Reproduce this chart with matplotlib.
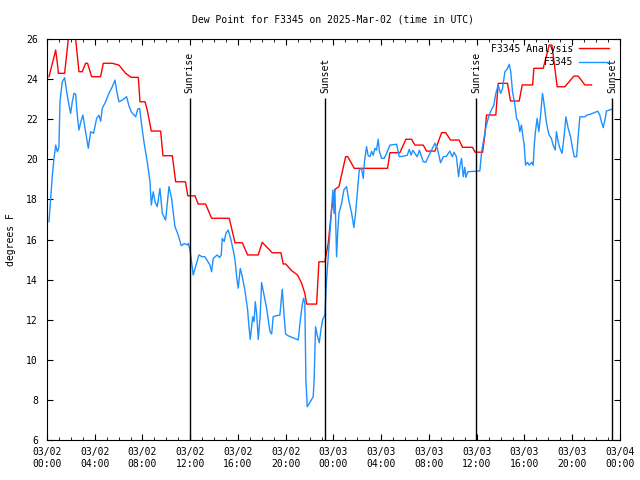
import matplotlib
matplotlib.use("Agg")
import matplotlib.pyplot as plt
import matplotlib.dates as mdates
import pandas as pd

# hours after 2025-03-02 00:00 UTC
base = pd.Timestamp("2025-03-02 00:00")

analysis_hours = [0.17, 0.73, 0.92, 0.95, 1.48, 1.95, 2.25, 2.68, 2.95, 3.24, 3.4, 3.74, 4.49, 4.72,
                  5.47, 6.03, 6.59, 7.06, 7.65, 7.79, 8.21, 8.4, 8.74, 9.52, 9.72, 10.5, 10.78, 11.6,
                  11.8, 12.4, 12.67, 13.29, 13.79, 15.27, 15.75, 16.36, 16.81, 17.7, 18.03, 18.87,
                  19.6, 19.79, 20.0, 20.49, 20.99, 21.33, 21.6, 21.75, 22.59, 22.78, 23.28, 23.56,
                  23.84, 24.12, 24.46, 25.02, 25.2, 25.74, 28.53, 28.73, 29.56, 30.07, 30.54, 30.82,
                  31.52, 31.8, 32.5, 33.06, 33.4, 33.81, 34.53, 34.81, 35.65, 35.85, 36.49, 36.68,
                  36.82, 37.6, 37.8, 38.58, 38.83, 39.56, 39.81, 40.68, 40.79, 41.57, 42.07, 42.3,
                  42.74, 43.38, 44.14, 44.5, 45.06, 45.62]
analysis_dewp = [24.12, 25.45, 24.54, 24.29, 24.29, 26.9, 26.9, 24.37, 24.37, 24.79, 24.79, 24.12, 24.12, 24.79,
                 24.79, 24.70, 24.29, 24.09, 24.09, 22.87, 22.87, 22.46, 21.41, 21.41, 20.18, 20.18, 18.88, 18.88,
                 18.18, 18.18, 17.77, 17.77, 17.06, 17.06, 15.84, 15.84, 15.23, 15.23, 15.86, 15.34,
                 15.34, 14.78, 14.78, 14.45, 14.23, 13.82, 13.32, 12.78, 12.78, 14.89, 14.89, 15.81,
                 17.47, 18.5, 18.64, 20.13, 20.13, 19.55, 19.55, 20.33, 20.33, 21.0, 21.0, 20.71,
                 20.71, 20.41, 20.41, 21.33, 21.33, 20.96, 20.96, 20.6, 20.6, 20.36, 20.35, 21.21,
                 22.21, 22.21, 23.79, 23.79, 22.91, 22.91, 23.71, 23.71, 24.54, 24.54, 25.7, 25.7,
                 23.62, 23.62, 24.15, 24.15, 23.71, 23.71]

obs_hours = [0.17, 0.31, 0.45, 0.59, 0.73, 0.87, 1.0, 1.09, 1.28, 1.48, 1.65, 1.84, 1.98, 2.12, 2.26, 2.4,
             2.54, 2.68, 2.85, 3.01, 3.15, 3.29, 3.46, 3.66, 3.9, 4.16, 4.35, 4.5, 4.63, 4.91, 5.19, 5.47,
             5.7, 5.85, 6.03, 6.3, 6.67, 6.85, 7.06, 7.43, 7.6, 7.76, 7.93, 8.12, 8.4, 8.63, 8.74, 8.9,
             9.05, 9.24, 9.46, 9.66, 9.94, 10.22, 10.44, 10.72, 11.0, 11.25, 11.5, 11.75, 11.85, 11.98,
             12.25, 12.45, 12.73, 13.0, 13.23, 13.65, 13.79, 13.93, 14.26, 14.45, 14.6, 14.68, 14.85,
             14.99, 15.18, 15.38, 15.6, 15.75, 15.89, 16.02, 16.19, 16.36, 16.58, 16.81, 16.92, 17.03,
             17.23, 17.35, 17.45, 17.56, 17.7, 17.85, 17.98, 18.15, 18.4, 18.68, 18.82, 18.95, 19.2,
             19.51, 19.71, 19.85, 19.99, 20.2, 21.05, 21.19, 21.38, 21.5, 21.6, 21.69, 21.8, 22.05,
             22.3, 22.38, 22.5, 22.65, 22.81, 22.95, 23.09, 23.28, 23.42, 23.62, 23.78, 23.95, 24.05,
             24.12, 24.26, 24.35, 24.46, 24.68, 24.87, 25.1, 25.3, 25.52, 25.71, 25.85, 25.99, 26.16,
             26.35, 26.49, 26.6, 26.77, 26.9, 27.05, 27.2, 27.33, 27.47, 27.6, 27.75, 27.85, 28.03,
             28.25, 28.45, 28.73, 29.29, 29.51, 29.8, 30.18, 30.35, 30.5, 30.65, 31.01, 31.2, 31.52,
             31.73, 32.08, 32.5, 32.7, 32.97, 33.2, 33.45, 33.75, 33.95, 34.1, 34.3, 34.48, 34.6,
             34.73, 34.87, 35.0, 35.09, 35.25, 36.26, 36.41, 36.6, 36.75, 36.96, 37.15, 37.44, 37.6,
             37.8, 38.0, 38.15, 38.36, 38.55, 38.72, 38.85, 39.0, 39.2, 39.34, 39.48, 39.61, 39.75,
             39.85, 39.98, 40.09, 40.25, 40.4, 40.6, 40.73, 40.82, 40.92, 41.06, 41.2, 41.35, 41.51,
             41.62, 41.79, 41.93, 42.07, 42.25, 42.4, 42.57, 42.68, 42.82, 42.97, 43.15, 43.33, 43.47,
             43.66, 43.86, 44.0, 44.17, 44.37, 44.51, 44.64, 45.06, 45.2, 45.48, 45.9, 46.15, 46.31,
             46.46, 46.6, 46.75, 46.87, 47.37]
obs_dewp = [16.89, 18.05, 19.22, 20.05, 20.71, 20.38, 20.6, 22.87, 23.87, 24.07, 23.37, 22.71, 22.29, 22.87, 23.29, 23.25,
            22.21, 21.46, 21.9, 22.21, 21.7, 21.21, 20.55, 21.38, 21.3, 22.04, 22.2, 21.9, 22.54, 22.87, 23.29, 23.62,
            23.95, 23.37, 22.87, 22.95, 23.12, 22.7, 22.37, 22.12, 22.5, 22.54, 21.71, 20.88, 19.88, 18.88, 17.72, 18.38,
            17.89, 17.64, 18.55, 17.31, 16.97, 18.64, 18.05, 16.64, 16.22, 15.69, 15.8, 15.73, 15.81, 15.48,
            14.23, 14.64, 15.23, 15.14, 15.14, 14.73, 14.39, 15.06, 15.23, 15.1, 15.23, 16.06, 15.9,
            16.31, 16.47, 16.06, 15.48, 14.98, 14.15, 13.57, 14.56, 14.15, 13.48, 12.48, 11.65, 11.02,
            12.15, 11.9, 12.9, 12.32, 11.02, 12.1, 13.85, 13.32, 12.57, 11.4, 11.29, 12.15, 12.2,
            12.23, 13.52, 12.32, 11.29, 11.2, 10.99, 11.82, 12.73, 13.07, 12.82, 8.99, 7.66, 7.9,
            8.16, 8.99, 11.65, 11.2, 10.85, 11.49, 11.99, 12.23, 13.98, 15.64, 16.97, 18.47, 17.3,
            18.47, 15.14, 16.3, 17.31, 17.81, 18.47, 18.64, 17.9, 17.31, 16.6, 17.3, 18.3, 19.47,
            19.55, 19.05, 19.9, 20.63, 20.2, 20.13, 20.4, 20.2, 20.55, 20.45, 21.0, 20.4, 20.05,
            20.05, 20.3, 20.71, 20.75, 20.13, 20.15, 20.2, 20.5, 20.21, 20.45, 20.13, 20.45, 19.88,
            19.85, 20.3, 20.8, 20.55, 19.83, 20.13, 20.15, 20.41, 20.13, 20.35, 20.13, 19.13, 19.7,
            20.05, 19.13, 19.6, 19.1, 19.38, 19.42, 20.38, 21.05, 21.55, 22.04, 22.37, 22.71, 23.29,
            23.71, 23.29, 23.5, 24.37, 24.5, 24.74, 24.37, 23.37, 22.71, 22.04, 21.9, 21.38, 21.71,
            21.21, 20.71, 19.71, 19.85, 19.71, 19.85, 19.71, 20.71, 21.38, 22.04, 21.38, 22.2, 23.29,
            22.87, 22.04, 21.55, 21.21, 21.05, 20.71, 20.46, 21.38, 20.88, 20.55, 20.3, 21.21, 22.12,
            21.55, 21.13, 20.63, 20.13, 20.13, 21.21, 22.12, 22.12, 22.2, 22.24, 22.34, 22.4, 22.21,
            21.84, 21.58, 22.0, 22.41, 22.51]

sun_hours = [11.95, 23.28, 35.93, 47.37]
sun_labels = ["Sunrise", "Sunset", "Sunrise", "Sunset"]
sun_line_top = 23.06


def to_time(hours):
    return base + pd.to_timedelta(hours, unit="h")


plt.rcParams['font.family'] = ['DejaVu Sans Mono']
plt.rcParams['font.size'] = 7

fig = plt.figure(figsize=(6.4, 4.8), dpi=100)
ax = fig.add_axes([0.0734, 0.0833, 0.8953, 0.8354])

ax.plot(to_time(analysis_hours), analysis_dewp, color='#ff0000', lw=1, label='F3345 Analysis')
ax.plot(to_time(obs_hours), obs_dewp, color='#1e90ff', lw=1, label='F3345')

sun_times = to_time(sun_hours)
ax.vlines(sun_times, 6, sun_line_top, color='black', lw=1)
for t, lab in zip(sun_times, sun_labels):
    ax.text(t, sun_line_top + 0.25, lab, rotation=90, ha='center', va='bottom')

ax.set_xlim(base, base + pd.Timedelta(hours=48))
ax.set_ylim(6, 26)
ax.set_yticks(range(6, 27, 2))
ax.xaxis.set_major_locator(mdates.HourLocator(byhour=range(0, 24, 4)))
ax.xaxis.set_minor_locator(mdates.HourLocator())
ax.xaxis.set_major_formatter(mdates.DateFormatter('%m/%d\n%H:%M'))
ax.tick_params(which='both', direction='in', top=True, right=True)
ax.tick_params(which='major', length=4)
ax.tick_params(which='minor', length=2)
ax.tick_params(axis='x', which='major', pad=5)
ax.tick_params(axis='y', which='major', pad=6.5)
for lab in ax.get_xticklabels():
    lab.set_linespacing(1.3)

ax.set_ylabel('degrees F', labelpad=7)
ax.set_title('Dew Point for F3345 on 2025-Mar-02 (time in UTC)', fontsize=7, pad=12)

ax.legend(loc='upper right', markerfirst=False, frameon=False, handlelength=3,
          handletextpad=0.6, labelspacing=0.35, borderaxespad=0.3,
          bbox_to_anchor=(0.992, 1.005))

plt.savefig('out.png')
